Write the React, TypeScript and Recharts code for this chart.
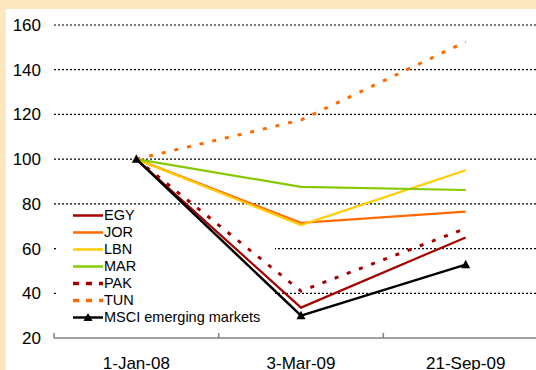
import React from 'react';
import {
  LineChart,
  Line,
  XAxis,
  YAxis,
  CartesianGrid,
  Legend,
  Customized,
} from 'recharts';

// index levels, 1-Jan-08 = 100
const dates = ['1-Jan-08', '3-Mar-09', '21-Sep-09'];
const egy = [100, 33.6, 65];
const jor = [100, 71.5, 76.5];
const lbn = [100, 70.5, 95];
const mar = [100, 87.6, 86.2];
const pak = [100, 41, 69];
const tun = [100, 117.5, 152.5];
const msci = [100, 30, 52.8];

const yTicks = [20, 40, 60, 80, 100, 120, 140, 160];
const gridValues = [40, 60, 80, 100, 120, 140, 160];

const FONT = '"Liberation Sans", Arial, sans-serif';

const series = [
  { key: 'EGY', values: egy, color: '#a50000', dash: undefined },
  { key: 'JOR', values: jor, color: '#ff6a00', dash: undefined },
  { key: 'LBN', values: lbn, color: '#ffcc00', dash: undefined },
  { key: 'MAR', values: mar, color: '#88c800', dash: undefined },
  { key: 'PAK', values: pak, color: '#a50000', dash: '4 9' },
  { key: 'TUN', values: tun, color: '#ff6a00', dash: '4 9' },
  { key: 'MSCI emerging markets', values: msci, color: '#000000', dash: undefined },
];

const data = dates.map((date, i) => {
  const row: Record<string, string | number> = { date };
  series.forEach(s => {
    row[s.key] = s.values[i];
  });
  return row;
});

const Triangle = (props: any) => {
  const { cx, cy } = props;
  if (cx == null || cy == null) return null;
  return (
    <polygon
      points={`${cx},${cy - 5} ${cx - 4.5},${cy + 3.5} ${cx + 4.5},${cy + 3.5}`}
      fill="#000"
    />
  );
};

// category labels centred, tick marks on the band boundaries pointing up
const DateTick = (props: any) => {
  const { x, y, payload } = props;
  const half = payload?.offset || 82.3;
  return (
    <g>
      <line x1={x - half} x2={x - half} y1={y} y2={y - 5} stroke="#808080" strokeWidth={1.5} />
      <text
        x={x}
        y={y + 19}
        dy="0.71em"
        textAnchor="middle"
        fontSize={17}
        fontFamily={FONT}
        fill="#000"
      >
        {payload.value}
      </text>
    </g>
  );
};

const LegendBox = () => (
  <rect x={50} y={197} width={219} height={122} fill="#fff" />
);

const LegendContent = () => (
  <div style={{ fontFamily: FONT, fontSize: 14.5, color: '#000' }}>
    {series.map(s => (
      <div key={s.key} style={{ display: 'flex', alignItems: 'center', height: 17 }}>
        <svg width={31} height={17} style={{ display: 'block' }}>
          {s.dash ? (
            <line x1={0} x2={30} y1={8.5} y2={8.5} stroke={s.color} strokeWidth={3.5} strokeDasharray="6 7" />
          ) : (
            <line x1={0} x2={30} y1={8.5} y2={8.5} stroke={s.color} strokeWidth={2.5} />
          )}
          {s.key === 'MSCI emerging markets' && (
            <polygon points="15,4 10.5,12 19.5,12" fill="#000" />
          )}
        </svg>
        <span style={{ lineHeight: '17px', whiteSpace: 'nowrap' }}>{s.key}</span>
      </div>
    ))}
  </div>
);

export default function App() {
  return (
    <div
      style={{
        position: 'fixed',
        left: 0,
        top: 0,
        width: 536,
        height: 370,
        overflow: 'hidden',
        background: '#fde7c0',
      }}
    >
      <div style={{ position: 'absolute', left: 6, top: 9, width: 560, height: 361, background: '#fff' }}>
        <LineChart
          width={554}
          height={361}
          data={data}
          margin={{ top: 16, right: 12, left: 0, bottom: 0 }}
        >
          <CartesianGrid
            vertical={false}
            horizontalValues={gridValues}
            stroke="#000"
            strokeDasharray="2 2"
            strokeWidth={1.2}
          />
          <Customized component={LegendBox} />
          <XAxis
            dataKey="date"
            scale="band"
            height={32}
            axisLine={{ stroke: '#808080', strokeWidth: 1.5 }}
            tickLine={false}
            tickSize={0}
            tickMargin={0}
            tick={<DateTick />}
            interval={0}
          />
          <YAxis
            width={48}
            domain={[20, 160]}
            ticks={yTicks}
            axisLine={false}
            tickLine={false}
            tickSize={6}
            tickMargin={7}
            tick={{ fontSize: 17, fontFamily: FONT, fill: '#000' }}
          />
          {series.map(s => (
            <Line
              key={s.key}
              dataKey={s.key}
              stroke={s.color}
              strokeWidth={s.dash ? 3 : s.key === 'MSCI emerging markets' ? 2.5 : 2.2}
              strokeDasharray={s.dash}
              dot={s.key === 'MSCI emerging markets' ? <Triangle /> : false}
              activeDot={false}
              isAnimationActive={false}
            />
          ))}
          <Legend
            layout="vertical"
            align="center"
            verticalAlign="middle"
            content={<LegendContent />}
            wrapperStyle={{ left: 67, top: 198, width: 220 }}
          />
        </LineChart>
      </div>
    </div>
  );
}
